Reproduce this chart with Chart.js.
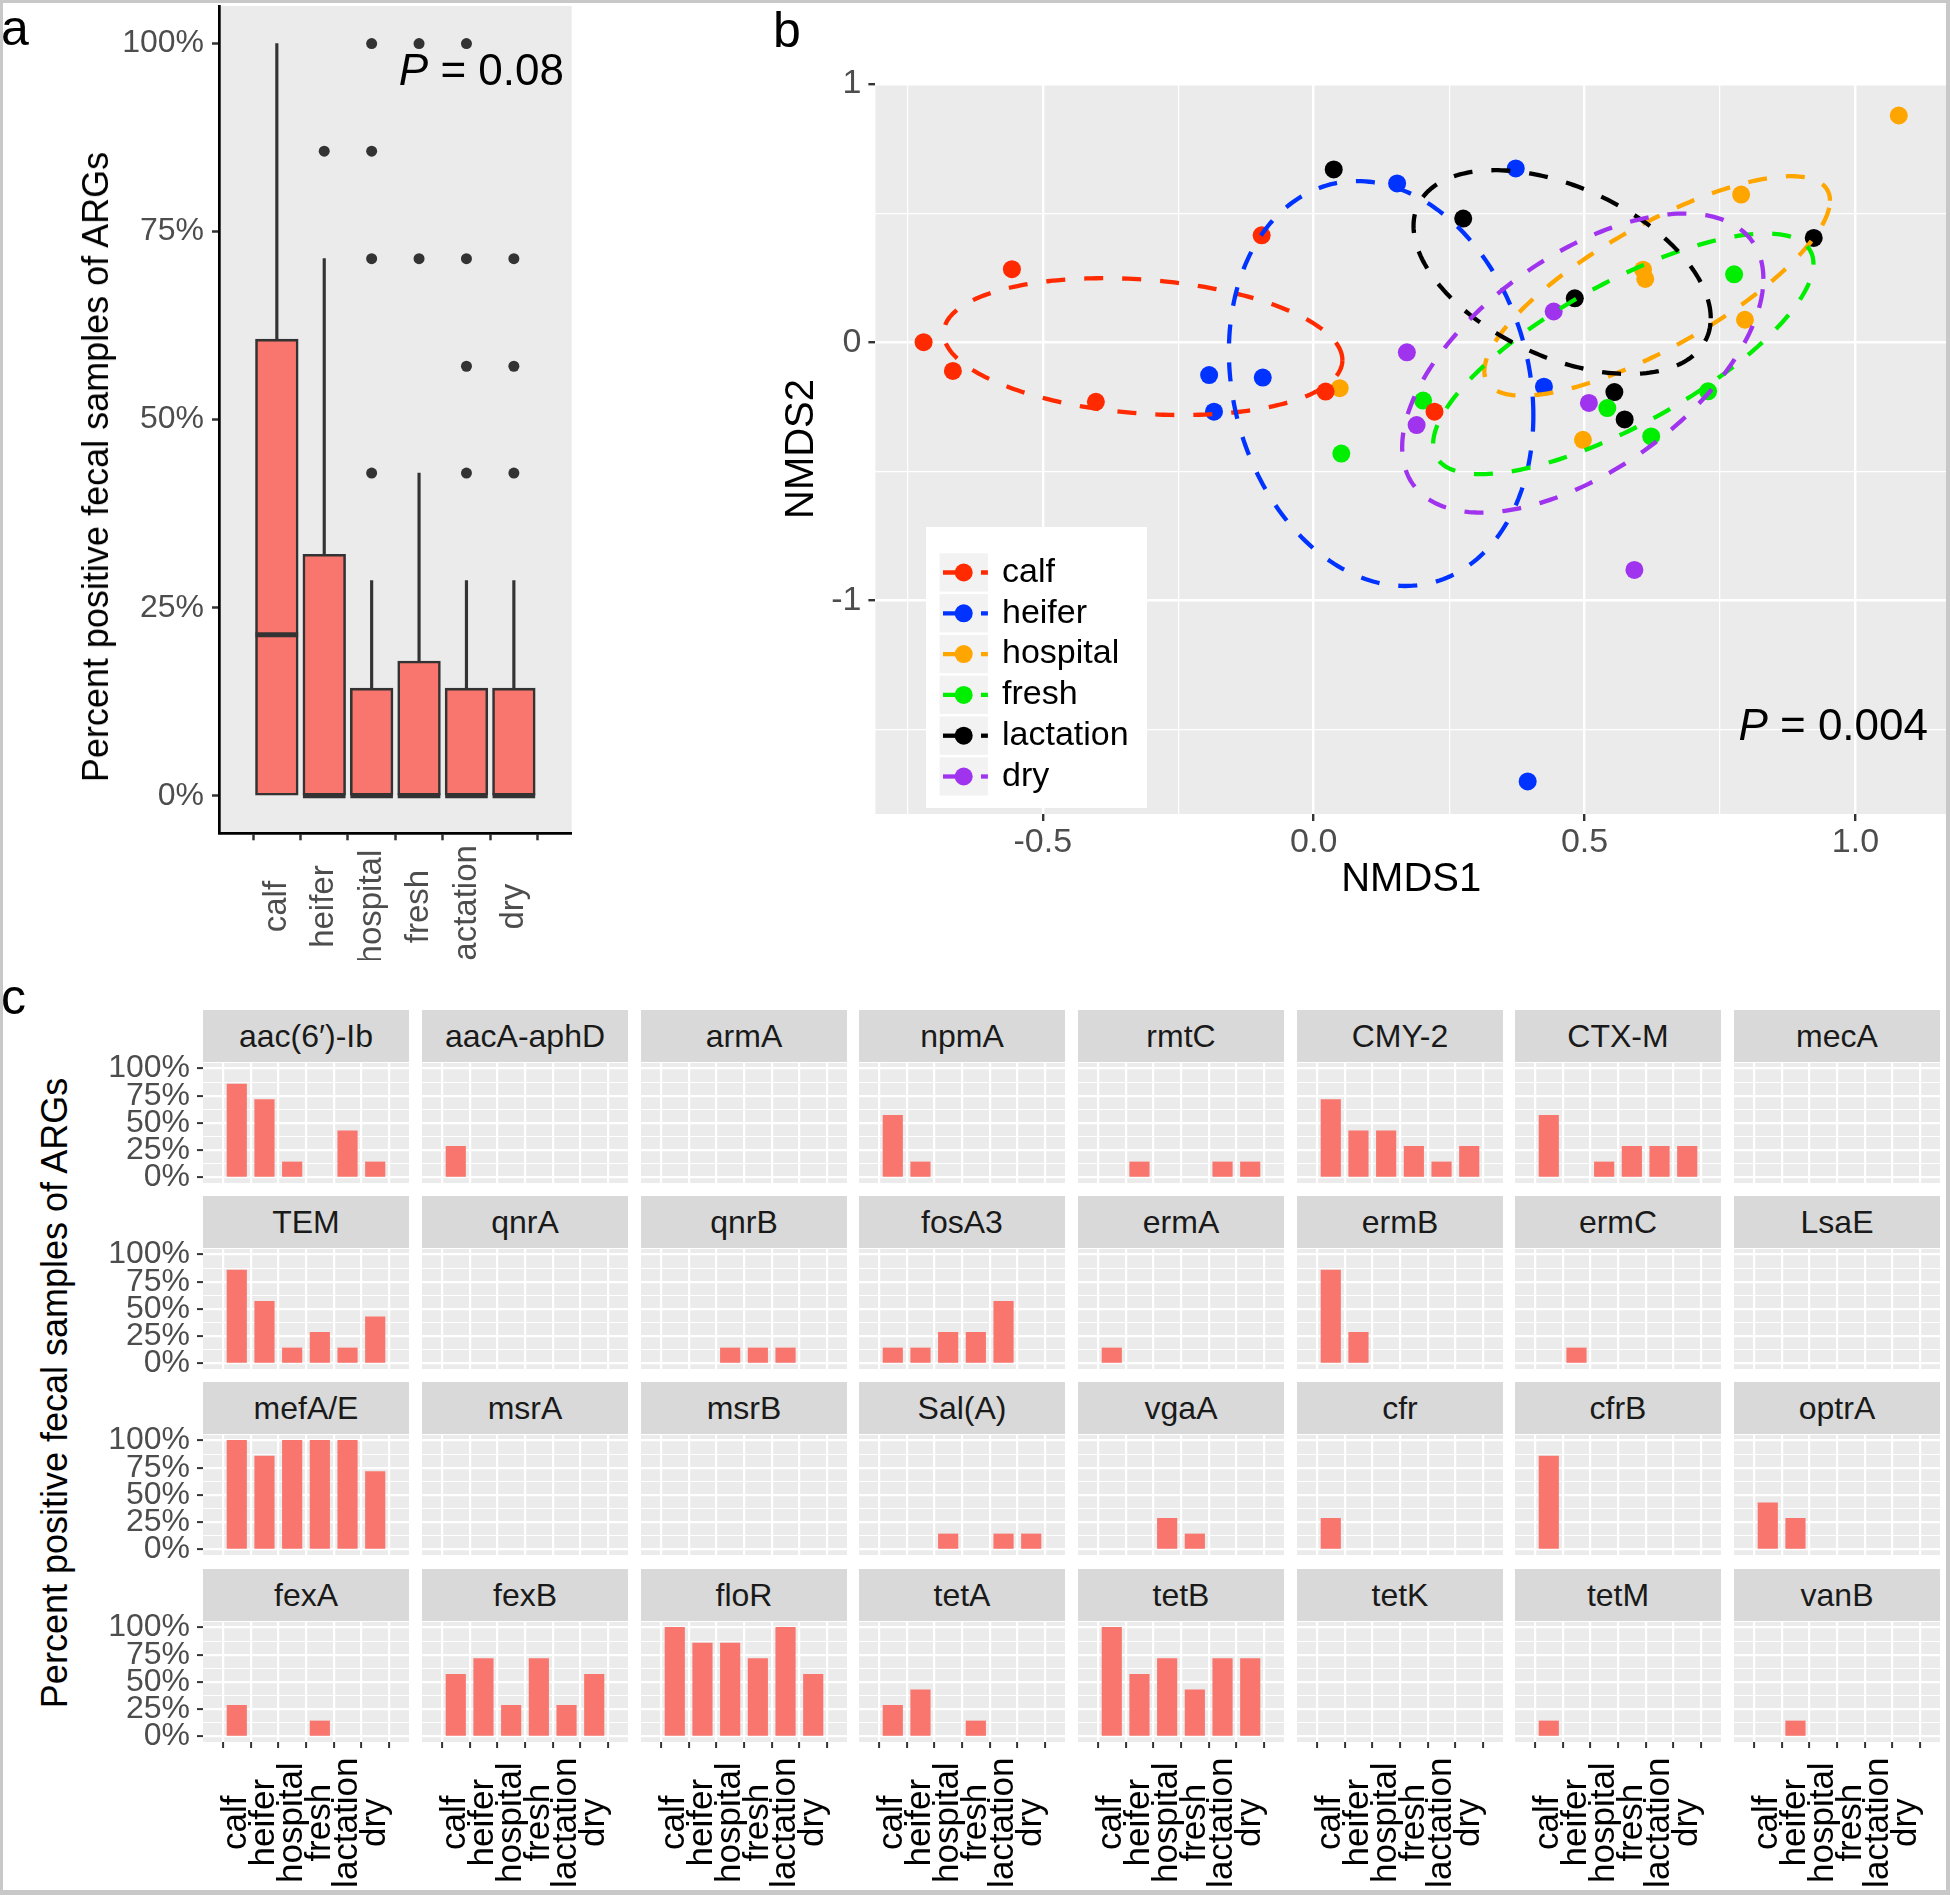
<!DOCTYPE html>
<html lang="en">
<head>
<meta charset="UTF-8">
<title>ARG prevalence by production group</title>
<style>
  body { margin: 0; background: #fff; }
  #fig { position: relative; width: 1950px; height: 1895px; overflow: hidden; background: #fff;
         font-family: "Liberation Sans", Arial, sans-serif; }
  #fig canvas { position: absolute; }
  .txt { position: absolute; white-space: nowrap; line-height: 1; color: #000; }
  .vtitle { position: absolute; white-space: nowrap; line-height: 1; font-size: 36px; color: #000;
            transform: translate(-50%, -50%) rotate(-90deg); }
  .strip { position: absolute; background: #d9d9d9; color: #1a1a1a; font-size: 32px;
           text-align: center; white-space: nowrap; }
  #frame { position: absolute; left: 0; top: 0; width: 1950px; height: 1895px; box-sizing: border-box;
           border-style: solid; border-color: #c8c8c8; border-width: 3px 4px 5px 3px; pointer-events: none; }
</style>
</head>
<body>
<div id="fig">
  <canvas id="boxChart" width="590" height="960" style="left:0;top:0"></canvas>
  <canvas id="nmdsChart" width="1347" height="908" style="left:600px;top:0"></canvas>

  <div class="txt" style="left:1px;top:3px;font-size:50px">a</div>
  <div class="txt" style="left:773px;top:5px;font-size:50px">b</div>
  <div class="txt" style="left:1px;top:972px;font-size:50px">c</div>

  <div class="vtitle" style="left:96px;top:467px">Percent positive fecal samples of ARGs</div>
  <div class="txt" style="right:1386px;top:48px;font-size:44px"><i>P</i> = 0.08</div>
  <div class="txt" style="right:22px;top:703px;font-size:44px"><i>P</i> = 0.004</div>
  <div class="vtitle" style="left:55px;top:1393px">Percent positive fecal samples of ARGs</div>

  <div id="frame"></div>
</div>

<script src="https://cdn.jsdelivr.net/npm/chart.js"></script>
<script>
    // ---- data ----
    const groups = ['calf', 'heifer', 'hospital', 'fresh', 'lactation', 'dry'];
    const pctTicks = [0, 25, 50, 75, 100];

    // panel a: boxplot of percent positive samples per ARG
    const boxQ1 = [0, 0, 0, 0, 0, 0];
    const boxMedian = [21.4, 0, 0, 0, 0, 0];
    const boxQ3 = [60.7, 32.1, 14.3, 17.9, 14.3, 14.3];
    const whiskerHigh = [100, 71.4, 28.6, 42.9, 28.6, 28.6];
    const outliers = [[], [85.7], [42.9, 71.4, 85.7, 100], [71.4, 100], [42.9, 57.1, 71.4, 100], [42.9, 57.1, 71.4]];

    // panel b: NMDS scores, one list per group
    const nmdsX = [
        [-0.720, -0.666, -0.557, -0.402, -0.096, 0.022, 0.223],
        [-0.193, -0.094, -0.184, 0.154, 0.373, 0.425, 0.395],
        [0.048, 0.497, 0.608, 0.612, 0.789, 0.796, 1.080],
        [0.051, 0.202, 0.542, 0.623, 0.728, 0.776],
        [0.037, 0.276, 0.482, 0.555, 0.574, 0.923],
        [0.172, 0.190, 0.443, 0.508, 0.592]
    ];
    const nmdsY = [
        [0.000, -0.111, 0.283, -0.231, 0.414, -0.191, -0.269],
        [-0.127, -0.137, -0.269, 0.615, 0.673, -0.172, -1.701],
        [-0.178, -0.378, 0.281, 0.245, 0.572, 0.087, 0.878],
        [-0.431, -0.226, -0.255, -0.365, -0.190, 0.263],
        [0.669, 0.479, 0.170, -0.193, -0.299, 0.404],
        [-0.039, -0.321, 0.119, -0.235, -0.882]
    ];
    const nmdsXTicks = [-0.75, -0.5, -0.25, 0, 0.25, 0.5, 0.75, 1.0];
    const nmdsYTicks = [-1.5, -1, -0.5, 0, 0.5, 1];
    // ellipse per group: centre, half width, half height, y offset of the rightmost point
    const ellCx = [-0.315, 0.1245, 0.634, 0.5715, 0.4586, 0.4967];
    const ellCy = [-0.017, -0.160, 0.218, -0.045, 0.2716, -0.0807];
    const ellHalfW = [0.368, 0.281, 0.319, 0.351, 0.2743, 0.3334];
    const ellHalfH = [0.265, 0.784, 0.425, 0.466, 0.3946, 0.579];
    const ellRightDy = [-0.052, -0.124, 0.330, 0.349, -0.1785, 0.326];

    // panel c: percent positive samples per gene (calf..dry)
    const genesRow1 = ['aac(6′)-Ib', 'aacA-aphD', 'armA', 'npmA', 'rmtC', 'CMY-2', 'CTX-M', 'mecA'];
    const pctRow1 = [
        [85.7, 71.4, 14.3, 0, 42.9, 14.3],
        [28.6, 0, 0, 0, 0, 0],
        [0, 0, 0, 0, 0, 0],
        [57.1, 14.3, 0, 0, 0, 0],
        [0, 14.3, 0, 0, 14.3, 14.3],
        [71.4, 42.9, 42.9, 28.6, 14.3, 28.6],
        [57.1, 0, 14.3, 28.6, 28.6, 28.6],
        [0, 0, 0, 0, 0, 0]
    ];
    const genesRow2 = ['TEM', 'qnrA', 'qnrB', 'fosA3', 'ermA', 'ermB', 'ermC', 'LsaE'];
    const pctRow2 = [
        [85.7, 57.1, 14.3, 28.6, 14.3, 42.9],
        [0, 0, 0, 0, 0, 0],
        [0, 0, 14.3, 14.3, 14.3, 0],
        [14.3, 14.3, 28.6, 28.6, 57.1, 0],
        [14.3, 0, 0, 0, 0, 0],
        [85.7, 28.6, 0, 0, 0, 0],
        [0, 14.3, 0, 0, 0, 0],
        [0, 0, 0, 0, 0, 0]
    ];
    const genesRow3 = ['mefA/E', 'msrA', 'msrB', 'Sal(A)', 'vgaA', 'cfr', 'cfrB', 'optrA'];
    const pctRow3 = [
        [100, 85.7, 100, 100, 100, 71.4],
        [0, 0, 0, 0, 0, 0],
        [0, 0, 0, 0, 0, 0],
        [0, 0, 14.3, 0, 14.3, 14.3],
        [0, 0, 28.6, 14.3, 0, 0],
        [28.6, 0, 0, 0, 0, 0],
        [85.7, 0, 0, 0, 0, 0],
        [42.9, 28.6, 0, 0, 0, 0]
    ];
    const genesRow4 = ['fexA', 'fexB', 'floR', 'tetA', 'tetB', 'tetK', 'tetM', 'vanB'];
    const pctRow4 = [
        [28.6, 0, 0, 14.3, 0, 0],
        [57.1, 71.4, 28.6, 71.4, 28.6, 57.1],
        [100, 85.7, 85.7, 71.4, 100, 57.1],
        [28.6, 42.9, 0, 14.3, 0, 0],
        [100, 57.1, 71.4, 42.9, 71.4, 71.4],
        [0, 0, 0, 0, 0, 0],
        [14.3, 0, 0, 0, 0, 0],
        [0, 14.3, 0, 0, 0, 0]
    ];
    const facetGridY = [0, 12.5, 25, 37.5, 50, 62.5, 75, 87.5, 100];

    // ---- styles ----
    const groupColors = ['#ff2a00', '#0033ff', '#ffa500', '#00ee00', '#000000', '#a033ee'];
    const barFill = '#f8766d';
    const FONT = '"Liberation Sans", Arial, sans-serif';

    Chart.defaults.font.family = FONT;
    Chart.defaults.animation = false;
    Chart.defaults.layout.autoPadding = false;
    Chart.defaults.plugins.legend.display = false;
    Chart.defaults.plugins.tooltip.enabled = false;

    // fix an axis box size and drop the label overhang padding
    function fixBox(w, h) {
        return s => {
            if (w !== null) s.width = w;
            if (h !== null) s.height = h;
            s.paddingLeft = s.paddingRight = s.paddingTop = s.paddingBottom = 0;
        };
    }
    const setTicks = vals => s => { s.ticks = vals.map(v => ({value: v})); };
    const isMajor = (v, step) => Math.abs(v / step - Math.round(v / step)) < 1e-9;

    const panelBg = {
        id: 'panelBg',
        beforeDraw(chart) {
            const a = chart.chartArea, ctx = chart.ctx;
            ctx.save();
            ctx.fillStyle = '#ebebeb';
            ctx.fillRect(a.left, a.top, a.right - a.left, a.bottom - a.top);
            ctx.restore();
        }
    };

    // vertical category labels centred under each tick (ggplot hjust = 0.5)
    function centredXLabels(offset, size, color) {
        return {
            id: 'centredXLabels',
            afterDraw(chart) {
                const {ctx, chartArea} = chart;
                const sx = chart.scales.x;
                ctx.save();
                ctx.font = size + 'px ' + FONT;
                ctx.fillStyle = color;
                ctx.textAlign = 'center';
                ctx.textBaseline = 'middle';
                groups.forEach((g, i) => {
                    ctx.save();
                    ctx.translate(sx.getPixelForValue(i + 1), chartArea.bottom + offset);
                    ctx.rotate(-Math.PI / 2);
                    ctx.fillText(g, 0, 0);
                    ctx.restore();
                });
                ctx.restore();
            }
        };
    }

    // ---- panel a ----
    new Chart(document.getElementById('boxChart'), {
        type: 'bar',
        data: {
            datasets: [
                {
                    type: 'bar',
                    data: groups.map((g, i) => ({x: i + 1, y: [boxQ3[i], whiskerHigh[i]]})),
                    backgroundColor: '#333333',
                    barThickness: 2.5,
                    grouped: false,
                    order: 3
                },
                {
                    type: 'bar',
                    data: groups.map((g, i) => ({x: i + 1, y: [boxQ1[i], boxQ3[i]]})),
                    backgroundColor: barFill,
                    borderColor: '#333333',
                    borderWidth: 2.6,
                    borderSkipped: false,
                    barThickness: 42.7,
                    grouped: false,
                    order: 2
                },
                {
                    type: 'scatter',
                    data: groups.map((g, i) => ({x: i + 1, y: boxMedian[i]})),
                    pointStyle: 'line',
                    pointRadius: 21.3,
                    borderColor: '#333333',
                    borderWidth: 5,
                    order: 1
                },
                {
                    type: 'scatter',
                    data: outliers.flatMap((list, i) => list.map(v => ({x: i + 1, y: v}))),
                    pointRadius: 5.5,
                    backgroundColor: '#333333',
                    borderWidth: 0,
                    order: 0
                }
            ]
        },
        options: {
            responsive: false,
            layout: {padding: {left: 0, top: 6, right: 18.3, bottom: 0}},
            scales: {
                x: {
                    type: 'linear', min: 0.4, max: 6.6,
                    afterBuildTicks: setTicks(groups.map((g, i) => i + 1)),
                    ticks: {display: false},
                    grid: {drawOnChartArea: false, tickLength: 7, tickColor: '#333333', tickWidth: 2.5},
                    border: {display: true, color: '#000000', width: 2.7},
                    afterFit: fixBox(null, 126.7)
                },
                y: {
                    min: -5, max: 105,
                    afterBuildTicks: setTicks(pctTicks),
                    ticks: {autoSkip: false, padding: 8, callback: v => v + '%', font: {size: 32}, color: '#4d4d4d'},
                    grid: {drawOnChartArea: false, tickLength: 7, tickColor: '#333333', tickWidth: 2.5},
                    border: {display: true, color: '#000000', width: 2.7},
                    afterFit: fixBox(219, null)
                }
            }
        },
        plugins: [panelBg, centredXLabels(73.3, 33, '#4d4d4d')]
    });

    // ---- panel b ----
    const ellipsePlugin = {
        id: 'ellipses',
        afterDatasetsDraw(chart) {
            const {ctx, chartArea: a} = chart;
            const sx = chart.scales.x, sy = chart.scales.y;
            ctx.save();
            ctx.beginPath();
            ctx.rect(a.left, a.top, a.right - a.left, a.bottom - a.top);
            ctx.clip();
            ctx.setLineDash([19, 19]);
            ctx.lineWidth = 4.3;
            groups.forEach((g, i) => {
                const v = Math.sqrt(ellHalfH[i] * ellHalfH[i] - ellRightDy[i] * ellRightDy[i]);
                ctx.beginPath();
                for (let s = 0; s <= 240; s++) {
                    const t = s / 240 * 2 * Math.PI;
                    const px = sx.getPixelForValue(ellCx[i] + ellHalfW[i] * Math.cos(t));
                    const py = sy.getPixelForValue(ellCy[i] + ellRightDy[i] * Math.cos(t) + v * Math.sin(t));
                    if (s === 0) ctx.moveTo(px, py); else ctx.lineTo(px, py);
                }
                ctx.strokeStyle = groupColors[i];
                ctx.stroke();
            });
            ctx.restore();
        },
        afterDraw(chart) {
            // legend box inside the panel
            const ctx = chart.ctx;
            const ox = 326, oy = 527;
            ctx.save();
            ctx.fillStyle = '#ffffff';
            ctx.fillRect(ox, oy, 221, 281);
            groups.forEach((g, i) => {
                const top = oy + 26.3 + i * 40.8;
                const cy = top + 19.2;
                ctx.fillStyle = '#f2f2f2';
                ctx.fillRect(ox + 13.6, top, 48.3, 38.3);
                ctx.strokeStyle = groupColors[i];
                ctx.lineWidth = 4.3;
                ctx.setLineDash([19, 19]);
                ctx.beginPath();
                ctx.moveTo(ox + 17, cy);
                ctx.lineTo(ox + 61.9, cy);
                ctx.stroke();
                ctx.setLineDash([]);
                ctx.fillStyle = groupColors[i];
                ctx.beginPath();
                ctx.arc(ox + 37.7, cy, 9, 0, 2 * Math.PI);
                ctx.fill();
                ctx.fillStyle = '#000000';
                ctx.font = '34px ' + FONT;
                ctx.textAlign = 'left';
                ctx.textBaseline = 'middle';
                ctx.fillText(g, ox + 76, cy);
            });
            ctx.restore();
        }
    };

    new Chart(document.getElementById('nmdsChart'), {
        type: 'scatter',
        data: {
            datasets: groups.map((g, i) => ({
                label: g,
                data: nmdsX[i].map((x, j) => ({x: x, y: nmdsY[i][j]})),
                backgroundColor: groupColors[i],
                borderWidth: 0,
                pointRadius: 9
            }))
        },
        options: {
            responsive: false,
            layout: {padding: {left: 174, top: 84, right: 0, bottom: 0}},
            scales: {
                x: {
                    type: 'linear', min: -0.809, max: 1.169,
                    afterBuildTicks: setTicks(nmdsXTicks),
                    ticks: {
                        autoSkip: false, maxRotation: 0, padding: 1, font: {size: 34}, color: '#4d4d4d',
                        callback: v => isMajor(v, 0.5) ? v.toFixed(1) : ''
                    },
                    grid: {
                        color: '#ffffff',
                        lineWidth: c => c.tick && isMajor(c.tick.value, 0.5) ? 2.4 : 1.2,
                        tickLength: 7, tickWidth: 2.4,
                        tickColor: c => c.tick && isMajor(c.tick.value, 0.5) ? '#333333' : 'rgba(0,0,0,0)'
                    },
                    border: {display: false},
                    title: {display: true, text: 'NMDS1', font: {size: 40}, color: '#000000', padding: {top: 4, bottom: 4}},
                    afterFit: fixBox(null, 94)
                },
                y: {
                    min: -1.827, max: 1.0,
                    afterBuildTicks: setTicks(nmdsYTicks),
                    ticks: {
                        autoSkip: false, padding: 7, font: {size: 34}, color: '#4d4d4d',
                        callback: v => isMajor(v, 1) ? String(v) : ''
                    },
                    grid: {
                        color: '#ffffff',
                        lineWidth: c => c.tick && isMajor(c.tick.value, 1) ? 2.4 : 1.2,
                        tickLength: 7, tickWidth: 2.4,
                        tickColor: c => c.tick && isMajor(c.tick.value, 1) ? '#333333' : 'rgba(0,0,0,0)'
                    },
                    border: {display: false},
                    title: {display: true, text: 'NMDS2', font: {size: 40}, color: '#000000', padding: {top: 4, bottom: 4}},
                    afterFit: fixBox(101.4, null)
                }
            }
        },
        plugins: [panelBg, ellipsePlugin]
    });

    // ---- panel c: facets ----
    const fig = document.getElementById('fig');
    const frame = document.getElementById('frame');
    const geneRows = [genesRow1, genesRow2, genesRow3, genesRow4];
    const pctRows = [pctRow1, pctRow2, pctRow3, pctRow4];
    const facetW = 206, facetH = 120, stripH = 52.4;
    const facetXLabels = centredXLabels(80.7, 35, '#000000');

    geneRows.forEach((genes, r) => {
        genes.forEach((gene, k) => {
            const left = Math.round(203.3 + k * 218.7);
            const top = Math.round(1062.7 + r * 186.3);
            const yW = k === 0 ? 100 : 0;
            const xH = r === 3 ? 150 : 0;
            const padTop = k === 0 ? 20 : 0;
            const padBottom = (k === 0 && r !== 3) ? 20 : 0;

            const strip = document.createElement('div');
            strip.className = 'strip';
            strip.style.left = left + 'px';
            strip.style.top = (top - stripH - 1) + 'px';
            strip.style.width = facetW + 'px';
            strip.style.height = stripH + 'px';
            strip.style.lineHeight = stripH + 'px';
            strip.textContent = gene;
            fig.insertBefore(strip, frame);

            const cv = document.createElement('canvas');
            cv.width = facetW + yW;
            cv.height = facetH + xH + padTop + padBottom;
            cv.style.left = (left - yW) + 'px';
            cv.style.top = (top - padTop) + 'px';
            fig.insertBefore(cv, frame);

            new Chart(cv, {
                type: 'bar',
                data: {
                    datasets: [{
                        label: gene,
                        // zero-height bars are not drawn
                        data: pctRows[r][k].map((v, i) => ({x: i + 1, y: v === 0 ? null : v})),
                        backgroundColor: barFill,
                        borderWidth: 0,
                        barThickness: 19.5
                    }]
                },
                options: {
                    responsive: false,
                    layout: {padding: {left: 0, right: 0, top: padTop, bottom: padBottom}},
                    scales: {
                        x: {
                            type: 'linear', min: 0.4, max: 6.6,
                            afterBuildTicks: setTicks(groups.map((g, i) => i + 1)),
                            ticks: {display: false},
                            grid: {color: '#ffffff', lineWidth: 2.2, drawTicks: r === 3, tickLength: 6, tickColor: '#333333', tickWidth: 2},
                            border: {display: false},
                            afterFit: fixBox(null, xH)
                        },
                        y: {
                            min: -5, max: 105,
                            afterBuildTicks: setTicks(facetGridY),
                            ticks: {
                                display: k === 0, autoSkip: false, padding: 7, font: {size: 32}, color: '#4d4d4d',
                                callback: v => isMajor(v, 25) ? v + '%' : ''
                            },
                            grid: {
                                color: '#ffffff',
                                lineWidth: c => c.tick && isMajor(c.tick.value, 25) ? 2.2 : 1.1,
                                drawTicks: k === 0, tickLength: 6, tickWidth: 2,
                                tickColor: c => c.tick && isMajor(c.tick.value, 25) ? '#333333' : 'rgba(0,0,0,0)'
                            },
                            border: {display: false},
                            afterFit: fixBox(yW, null)
                        }
                    }
                },
                plugins: r === 3 ? [panelBg, facetXLabels] : [panelBg]
            });
        });
    });
</script>
</body>
</html>
